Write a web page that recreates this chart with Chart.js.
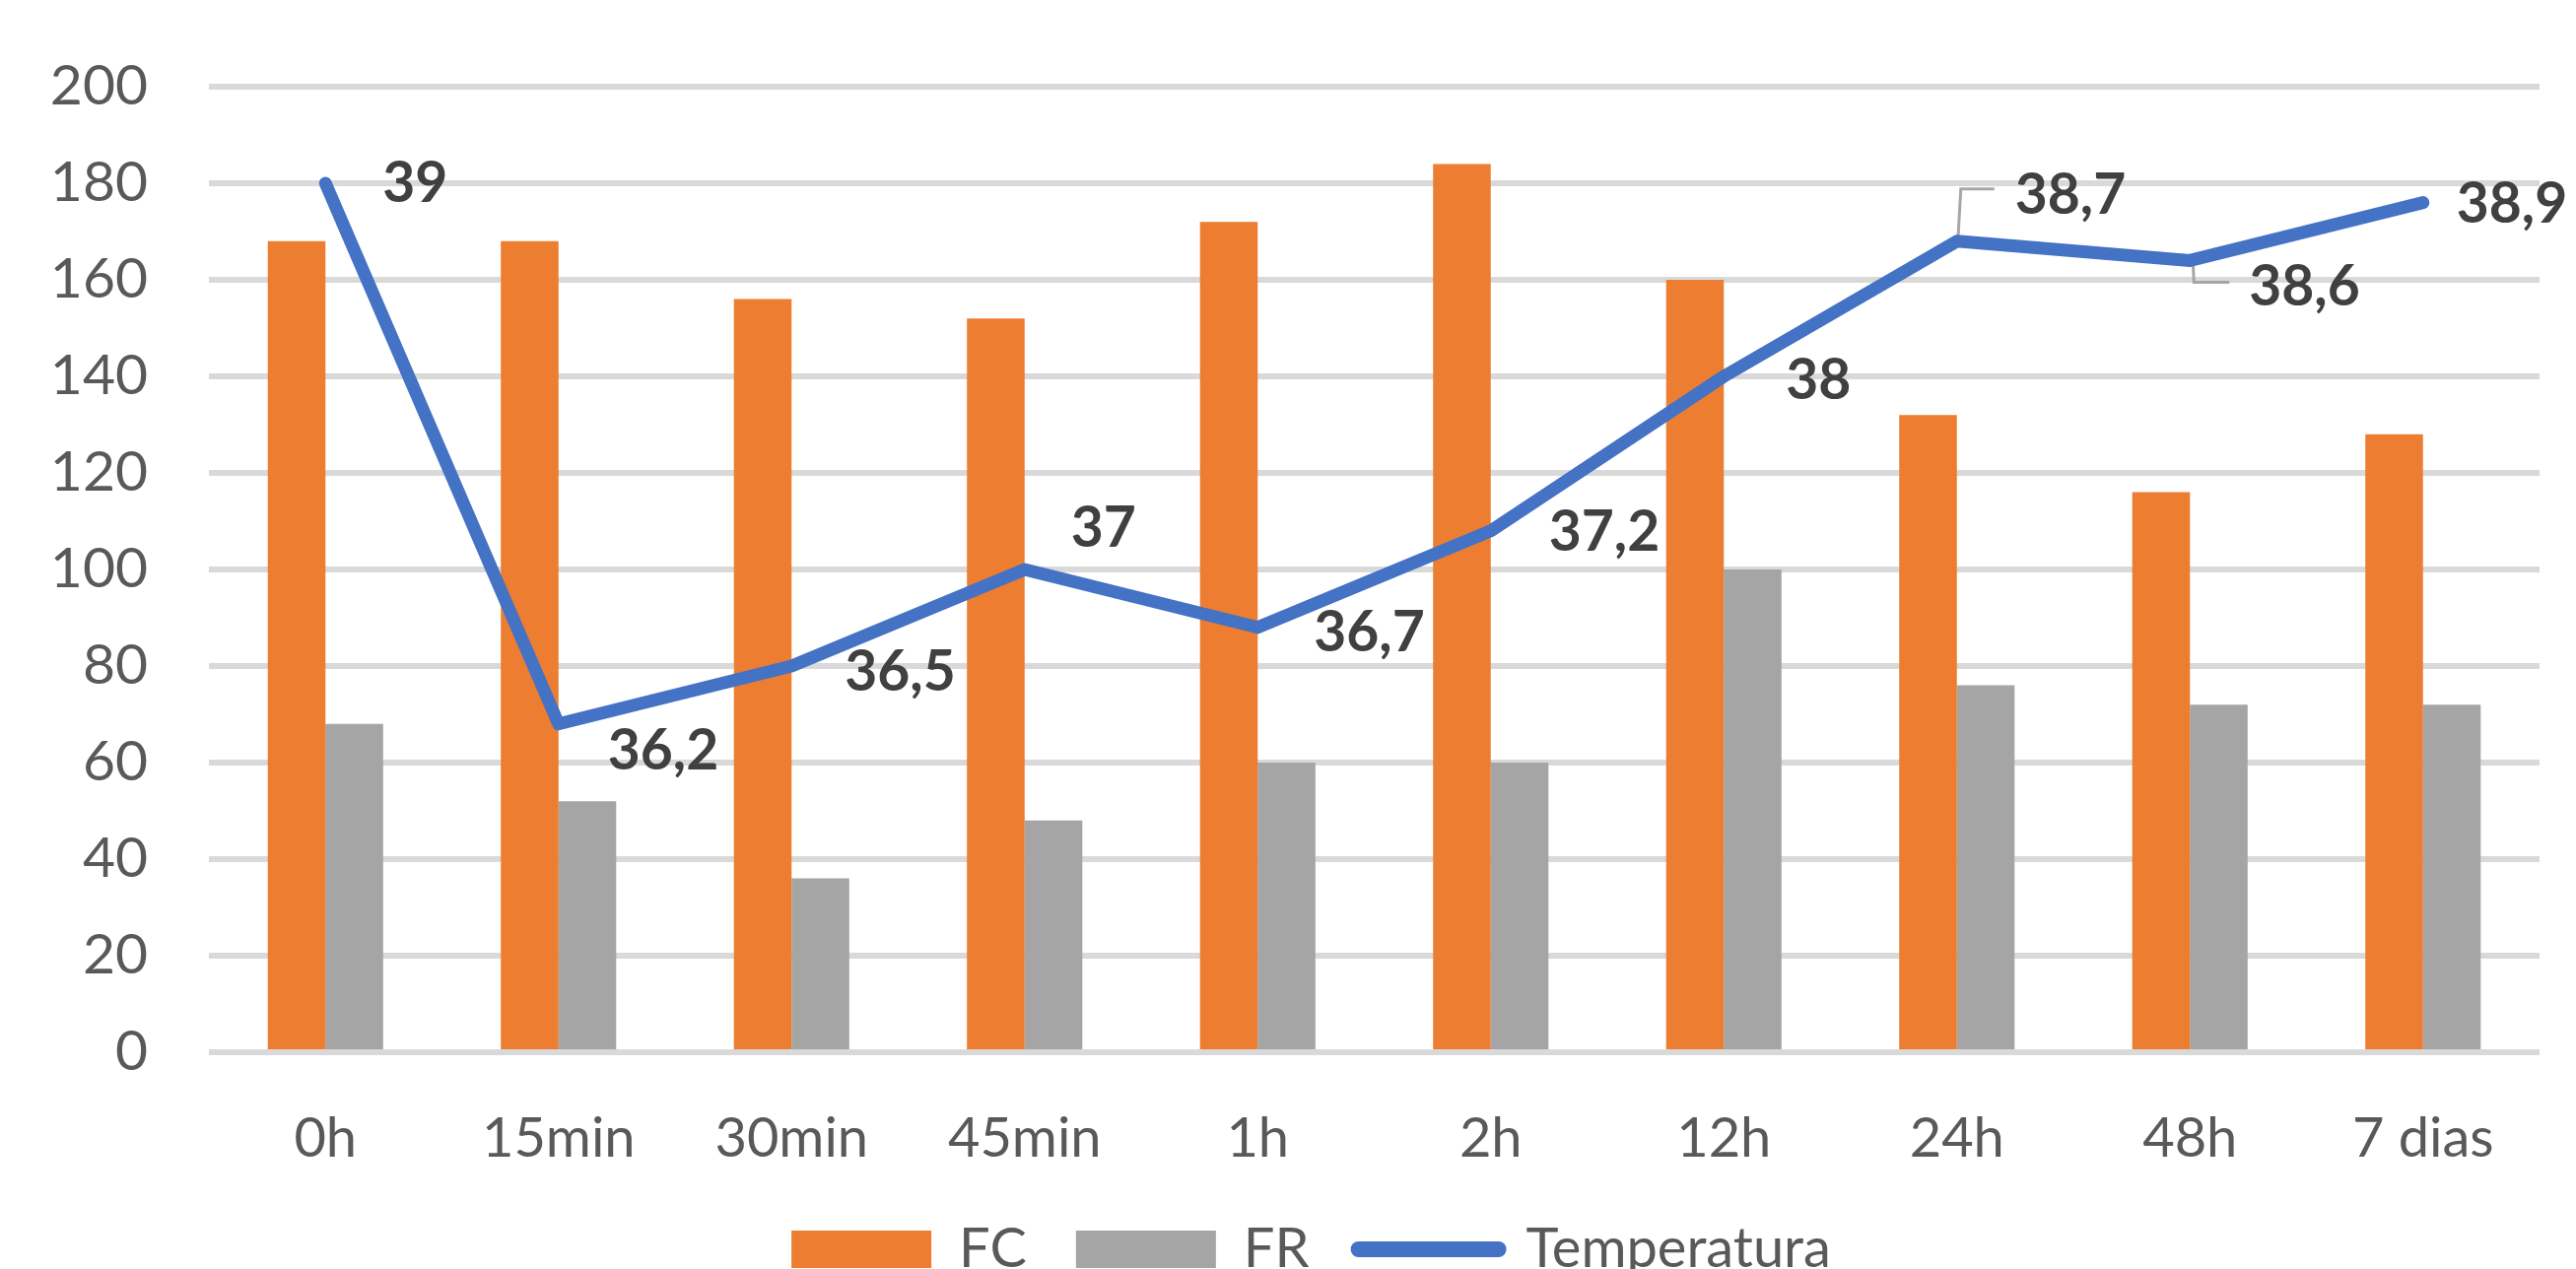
<!DOCTYPE html>
<html>
<head>
<meta charset="utf-8">
<title>FC, FR e Temperatura</title>
<script src="https://cdn.jsdelivr.net/npm/chart.js@4/dist/chart.umd.min.js"></script>
<style>
  html, body { margin: 0; padding: 0; background: #ffffff; overflow: hidden; }
  #wrap { width: 2614px; height: 1288px; overflow: hidden; }
  canvas { display: block; }
</style>
</head>
<body>
<div id="wrap"><canvas id="chart" width="2614" height="1306"></canvas></div>
<script>
// Time points of the follow-up
const categories = ['0h', '15min', '30min', '45min', '1h', '2h', '12h', '24h', '48h', '7 dias'];

// Heart rate (FC) and respiratory rate (FR)
const fc = [168, 168, 156, 152, 172, 184, 160, 132, 116, 128];
const fr = [68, 52, 36, 48, 60, 60, 100, 76, 72, 72];

// Body temperature (°C), plotted on its own hidden scale
const temperatura = [39, 36.2, 36.5, 37, 36.7, 37.2, 38, 38.7, 38.6, 38.9];

// Left axis ticks
const yTicks = [0, 20, 40, 60, 80, 100, 120, 140, 160, 180, 200];

// Placement of each temperature label relative to its point: [dx to text start, dy of text centre]
const labelOffsets = [[58, 1], [50, 28], [54, 7], [47, -41], [57, 6], [59, 2], [63, 5], [59, -46], [60, 27], [34, 2]];
// Leader lines for labels moved away from their point: vertical run then horizontal run
const leaders = [null, null, null, null, null, null, null,
  { x0: 1, x1: 4, yEnd: -53, xEnd: 38 },
  { x0: 3, x1: 4, yEnd: 22, xEnd: 40 },
  null];

const COLORS = { fc: '#ED7D31', fr: '#A5A5A5', temp: '#4472C4', grid: '#D9D9D9', tick: '#595959', label: '#404040', leader: '#A6A6A6' };
const FONT = 'Lato';
const LEGEND_SHIFT = 42;

Chart.defaults.font.family = FONT;

const fmt = v => String(v).replace('.', ',');

const temperatureLabels = {
  id: 'temperatureLabels',
  afterLayout(chart) {
    // nudge the legend row to the right
    chart.legend.left += LEGEND_SHIFT;
    chart.legend.right += LEGEND_SHIFT;
  },
  beforeDatasetsDraw(chart) {
    const meta = chart.getDatasetMeta(2);
    const ctx = chart.ctx;
    ctx.save();
    ctx.strokeStyle = COLORS.leader;
    ctx.lineWidth = 3;
    meta.data.forEach((pt, i) => {
      const l = leaders[i];
      if (!l) return;
      ctx.beginPath();
      ctx.moveTo(pt.x + l.x0, pt.y);
      ctx.lineTo(pt.x + l.x1, pt.y + l.yEnd);
      ctx.lineTo(pt.x + l.xEnd, pt.y + l.yEnd);
      ctx.stroke();
    });
    ctx.restore();
  },
  afterDatasetsDraw(chart) {
    const meta = chart.getDatasetMeta(2);
    const ctx = chart.ctx;
    ctx.save();
    ctx.font = 'bold 57px ' + FONT;
    ctx.fillStyle = COLORS.label;
    ctx.textAlign = 'left';
    ctx.textBaseline = 'middle';
    meta.data.forEach((pt, i) => {
      const [dx, dy] = labelOffsets[i];
      ctx.fillText(fmt(temperatura[i]), pt.x + dx, pt.y + dy);
    });
    ctx.restore();
  }
};

new Chart(document.getElementById('chart'), {
  data: {
    labels: categories,
    datasets: [
      { type: 'bar', label: 'FC', data: fc, backgroundColor: COLORS.fc, borderWidth: 0, yAxisID: 'y', order: 1,
        categoryPercentage: 0.495, barPercentage: 1.0 },
      { type: 'bar', label: 'FR', data: fr, backgroundColor: COLORS.fr, borderWidth: 0, yAxisID: 'y', order: 1,
        categoryPercentage: 0.495, barPercentage: 1.0 },
      { type: 'line', label: 'Temperatura', data: temperatura, borderColor: COLORS.temp, backgroundColor: COLORS.temp,
        borderWidth: 13, borderCapStyle: 'round', borderJoinStyle: 'round', pointRadius: 0, pointHoverRadius: 0,
        tension: 0, fill: false, yAxisID: 'y2', order: 0 }
    ]
  },
  options: {
    responsive: false,
    animation: false,
    devicePixelRatio: 1,
    layout: { padding: { top: 88, right: 37, left: 0, bottom: 0 } },
    scales: {
      x: {
        grid: { display: false, drawTicks: false },
        border: { display: false },
        ticks: { color: COLORS.tick, font: { size: 56 }, padding: 54, maxRotation: 0, autoSkip: false },
        afterFit(s) { s.height = 122; }
      },
      y: {
        position: 'left',
        min: 0, max: 200,
        afterBuildTicks(s) { s.ticks = yTicks.map(v => ({ value: v })); },
        grid: { color: COLORS.grid, lineWidth: 6, drawTicks: false },
        border: { display: false },
        ticks: { color: COLORS.tick, font: { size: 57, lineHeight: 0.8 }, padding: 62 },
        afterFit(s) { s.width = 212; }
      },
      y2: {
        position: 'right',
        display: false,
        min: 34.5, max: 39.5,
        grid: { display: false }
      }
    },
    plugins: {
      tooltip: { enabled: false },
      legend: {
        position: 'bottom',
        labels: {
          color: COLORS.tick,
          font: { size: 56 },
          padding: 50,
          usePointStyle: true,
          pointStyleWidth: 142,
          boxHeight: 38,
          generateLabels(chart) {
            return chart.data.datasets.map((ds, i) => ({
              text: ds.label,
              fillStyle: ds.type === 'line' ? 'rgba(0,0,0,0)' : ds.backgroundColor,
              strokeStyle: ds.type === 'line' ? ds.borderColor : ds.backgroundColor,
              lineWidth: ds.type === 'line' ? 16 : 0,
              lineCap: 'round',
              pointStyle: ds.type === 'line' ? 'line' : 'rect',
              fontColor: COLORS.tick,
              hidden: false,
              datasetIndex: i
            }));
          }
        }
      }
    }
  },
  plugins: [temperatureLabels]
});
</script>
</body>
</html>
